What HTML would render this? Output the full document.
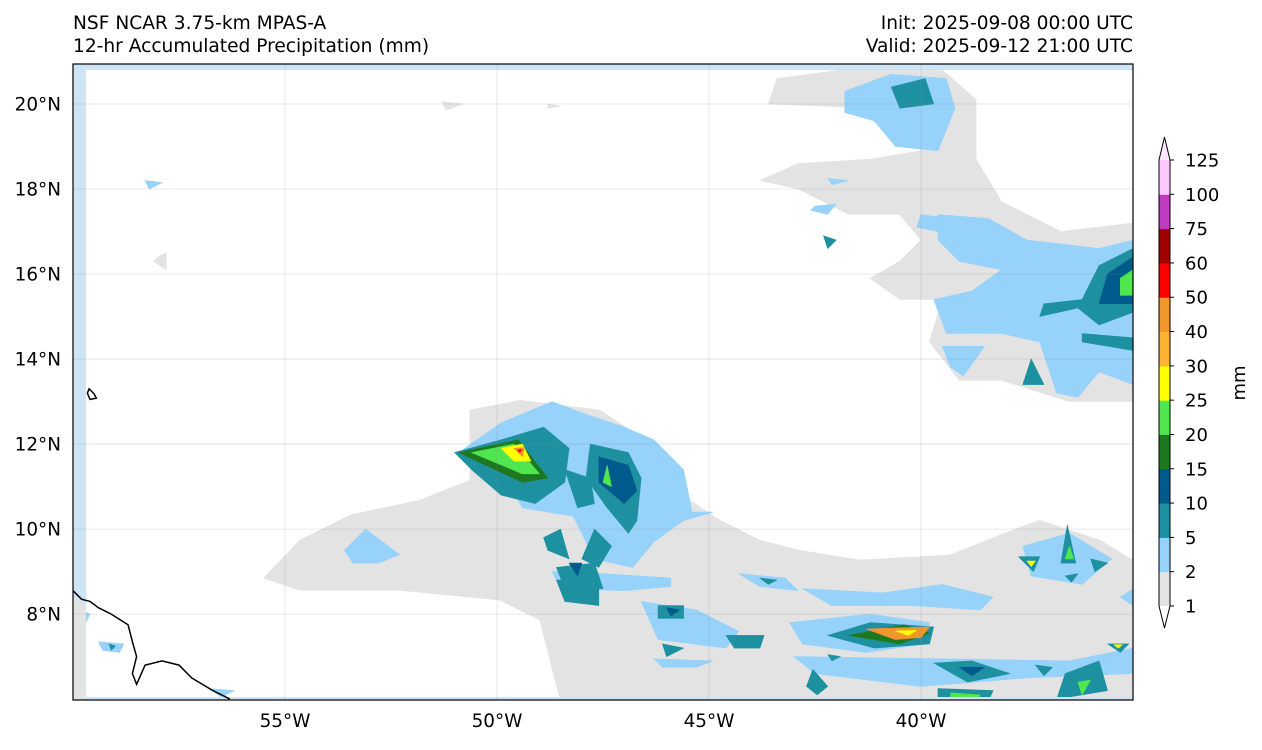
<!DOCTYPE html>
<html><head><meta charset="utf-8">
<style>
html,body{margin:0;padding:0;background:#fff;}
body{width:1262px;height:745px;overflow:hidden;font-family:"Liberation Sans","DejaVu Sans",sans-serif;}
svg text{font-family:"DejaVu Sans","Liberation Sans",sans-serif;fill:#000;}
</style></head>
<body>
<svg id="chart" width="1262" height="745" viewBox="0 0 1262 745" xmlns="http://www.w3.org/2000/svg">
<text x="73" y="29" font-size="18.6">NSF NCAR 3.75-km MPAS-A</text>
<text x="73" y="52" font-size="18.6">12-hr Accumulated Precipitation (mm)</text>
<text x="1133" y="29" font-size="18.6" text-anchor="end">Init: 2025-09-08 00:00 UTC</text>
<text x="1133" y="52" font-size="18.6" text-anchor="end">Valid: 2025-09-12 21:00 UTC</text>
<defs><clipPath id="mapclip"><rect x="73" y="64" width="1060" height="636"/></clipPath></defs>
<g id="map" clip-path="url(#mapclip)"></g>
<rect x="73" y="64" width="1060" height="636" fill="none" stroke="#000" stroke-width="1.2"/>
<g id="axes"></g>
<g id="cbar"></g>
<text x="1245" y="383" font-size="18" text-anchor="middle" transform="rotate(-90 1245 383)">mm</text>
</svg>
<script>
// ---- data ----
const levels = [1,2,5,10,15,20,25,30,40,50,60,75,100,125];
const levelColors = ["#e3e3e3","#96d2fa","#1e91a0","#005a8c","#1e7820","#50e650","#ffff00","#fab432","#f0962d","#ff0000","#a00000","#c03cc0","#ffc8ff"];
const lonTicks = [-55,-50,-45,-40];
const lonLabels = ["55°W","50°W","45°W","40°W"];
const latTicks = [8,10,12,14,16,18,20];
const latLabels = ["8°N","10°N","12°N","14°N","16°N","18°N","20°N"];
const lonRange = [-60,-35];
const latRange = [5.98,20.94];
const gray1 = [[-55.5,8.85],[-54.65,9.74],[-53.47,10.33],[-51.82,10.68],[-50.64,11.15],[-50.64,12.8],[-49.46,13.03],[-47.57,12.8],[-46.16,11.86],[-45.45,10.68],[-44.74,10.21],[-43.8,9.74],[-42.85,9.5],[-41.44,9.27],[-39.32,9.39],[-38.14,9.86],[-37.2,10.21],[-35.78,9.74],[-35,9.27],[-35,5.98],[-48.51,5.98],[-48.99,7.86],[-49.93,8.33],[-52.29,8.56],[-54.65,8.56]];
const gray2 = [[-43.4,20.6],[-41.9,20.8],[-39.5,20.8],[-38.7,20.1],[-38.7,18.7],[-38.1,17.7],[-36.7,17.0],[-35,17.2],[-35,13.0],[-36.5,13.0],[-38.1,13.5],[-39.1,13.5],[-39.8,14.4],[-39.5,15.4],[-40.5,15.4],[-41.2,15.9],[-40.5,16.3],[-40.0,16.8],[-40.5,17.4],[-41.7,17.4],[-42.9,18.0],[-43.8,18.2],[-42.9,18.6],[-41.2,18.7],[-40.0,18.9],[-41.0,19.9],[-43.6,20.0]];
const gray3 = [[-51.3,20.05],[-50.8,20.0],[-51.2,19.85]];
const gray4 = [[-48.8,20.0],[-48.5,19.95],[-48.8,19.9]];
const gray5 = [[-58.0,16.4],[-57.8,16.5],[-57.8,16.1],[-58.1,16.3]];
const gray6 = [[-60,8.4],[-59.7,8.2],[-59.7,5.98],[-60,5.98]];
const blue1 = [[-41.8,20.3],[-40.7,20.7],[-39.4,20.6],[-39.2,19.9],[-39.6,18.9],[-40.6,19.0],[-41.1,19.6],[-41.8,19.8]];
const teal1 = [[-40.7,20.4],[-39.9,20.6],[-39.7,20.0],[-40.5,19.9]];
const blue2 = [[-39.6,17.4],[-38.4,17.3],[-37.5,16.8],[-35.8,16.6],[-35,16.8],[-35,13.4],[-35.8,13.7],[-36.3,13.1],[-36.8,13.2],[-37.2,14.4],[-38.1,14.6],[-39.4,14.6],[-39.7,15.4],[-38.8,15.6],[-38.1,16.1],[-39.1,16.3],[-39.6,16.8]];
const blue2b = [[-39.5,14.3],[-38.5,14.3],[-39.0,13.6],[-39.3,13.8]];
const blue2c = [[-42.2,18.25],[-41.7,18.2],[-42.1,18.1]];
const blue2d = [[-42.5,17.6],[-42.0,17.65],[-42.2,17.4],[-42.6,17.5]];
const blue2e = [[-40.0,17.4],[-39.3,17.3],[-39.6,17.0],[-40.1,17.1]];
const teal2 = [[-35.8,16.2],[-35,16.6],[-35,15.1],[-35.8,14.8],[-36.3,15.2],[-37.2,15.0],[-37.1,15.3],[-36.2,15.4]];
const teal3 = [[-36.2,14.6],[-35,14.5],[-35,14.2],[-36.2,14.4]];
const teal3b = [[-37.4,14.0],[-37.1,13.4],[-37.6,13.4]];
const teal3c = [[-42.3,16.9],[-42.0,16.8],[-42.2,16.6]];
const dblue1 = [[-35.6,16.0],[-35,16.4],[-35,15.3],[-35.8,15.3]];
const green1 = [[-35.3,15.9],[-35,16.1],[-35,15.5],[-35.3,15.5]];
const blue3 = [[-50.9,11.8],[-49.9,12.5],[-48.7,13.0],[-47.9,12.7],[-47.0,12.4],[-46.3,12.1],[-45.6,11.4],[-45.4,10.4],[-44.9,10.4],[-45.6,10.2],[-46.3,9.7],[-46.8,9.1],[-47.7,9.3],[-48.2,10.3],[-49.4,10.5],[-49.9,11.4]];
const blue4 = [[-48.7,9.0],[-47.5,8.95],[-45.9,8.85],[-45.9,8.65],[-47.0,8.55],[-48.5,8.6]];
const blue5 = [[-53.6,9.5],[-53.1,10.0],[-52.3,9.4],[-52.8,9.2],[-53.4,9.2]];
const teal4 = [[-51.0,11.8],[-49.9,12.1],[-48.9,12.4],[-48.3,11.9],[-48.4,11.1],[-49.1,10.6],[-49.9,10.8],[-50.6,11.4]];
const dgreen2 = [[-50.9,11.8],[-49.5,12.1],[-48.8,11.2],[-49.4,11.1]];
const green2 = [[-50.6,11.8],[-49.6,12.0],[-49.0,11.3],[-49.4,11.3]];
const yellow2 = [[-49.9,11.9],[-49.4,12.0],[-49.2,11.6],[-49.6,11.6]];
const orange2 = [[-49.6,11.9],[-49.35,11.92],[-49.4,11.7]];
const red2 = [[-49.52,11.86],[-49.42,11.88],[-49.46,11.8]];
const teal5 = [[-47.8,12.0],[-46.9,11.8],[-46.6,11.2],[-46.7,10.2],[-46.9,9.9],[-47.4,10.5],[-47.9,11.2]];
const dblue5 = [[-47.6,11.7],[-46.9,11.5],[-46.7,10.9],[-47.0,10.6],[-47.6,11.1]];
const green5 = [[-47.4,11.5],[-47.3,11.0],[-47.5,11.1]];
const teal6 = [[-48.4,11.4],[-47.8,11.2],[-47.7,10.6],[-48.1,10.5]];
const teal7 = [[-48.9,9.8],[-48.5,10.0],[-48.3,9.3],[-48.8,9.5]];
const teal8 = [[-48.6,9.1],[-47.7,9.2],[-47.5,8.6],[-48.4,8.6]];
const teal9 = [[-47.7,10.0],[-47.3,9.6],[-47.6,9.1],[-48.0,9.3]];
const teal10 = [[-48.6,8.8],[-47.6,8.8],[-47.6,8.2],[-48.4,8.3]];
const dblue10 = [[-48.3,9.2],[-48.0,9.2],[-48.1,8.9]];
const blue7 = [[-42.8,8.6],[-40.9,8.5],[-39.5,8.7],[-38.3,8.4],[-38.6,8.1],[-40.2,8.2],[-42.1,8.2]];
const blue6 = [[-43.1,7.8],[-41.2,8.0],[-39.8,7.8],[-39.9,7.3],[-41.3,7.1],[-42.8,7.3]];
const teal11 = [[-42.2,7.5],[-41.2,7.8],[-39.7,7.7],[-39.8,7.3],[-41.1,7.2]];
const dgreen11 = [[-41.7,7.5],[-40.4,7.75],[-39.8,7.55],[-40.5,7.3]];
const orange11 = [[-41.3,7.65],[-39.8,7.7],[-40.0,7.45],[-40.6,7.4]];
const yellow11 = [[-40.6,7.6],[-40.1,7.62],[-40.3,7.5]];
const blue8 = [[-44.3,8.95],[-43.2,8.85],[-42.9,8.55],[-43.8,8.65]];
const teal8b = [[-43.8,8.85],[-43.4,8.8],[-43.6,8.7]];
const blue9 = [[-46.6,8.3],[-45.3,8.1],[-44.3,7.6],[-44.6,7.2],[-46.2,7.4]];
const teal12 = [[-46.2,8.2],[-45.6,8.2],[-45.6,7.9],[-46.2,7.9]];
const dblue12 = [[-46.0,8.15],[-45.7,8.1],[-45.9,7.95]];
const teal13 = [[-44.6,7.5],[-43.7,7.5],[-43.8,7.2],[-44.4,7.2]];
const teal14 = [[-46.1,7.3],[-45.6,7.2],[-46.0,7.0]];
const blue15 = [[-43.0,7.0],[-39.5,6.95],[-36.5,6.9],[-35,7.2],[-35,6.6],[-37.5,6.5],[-40,6.3],[-42.5,6.6]];
const blue15b = [[-46.3,6.95],[-44.9,6.9],[-45.3,6.75],[-46.1,6.75]];
const teal15 = [[-39.7,6.85],[-38.8,6.9],[-37.9,6.6],[-38.9,6.4]];
const dblue15 = [[-39.1,6.75],[-38.5,6.75],[-38.8,6.55]];
const teal16 = [[-36.6,6.6],[-35.8,6.9],[-35.6,6.2],[-36.8,6.0]];
const green16 = [[-36.3,6.4],[-36.0,6.45],[-36.2,6.1]];
const teal17 = [[-35.6,7.3],[-35.1,7.3],[-35.3,7.1]];
const yellow17 = [[-35.45,7.28],[-35.25,7.28],[-35.35,7.2]];
const teal18 = [[-39.6,6.25],[-38.3,6.2],[-38.4,5.98],[-39.6,5.98]];
const green18 = [[-39.3,6.15],[-38.6,6.1],[-38.7,5.98],[-39.3,5.98]];
const teal19 = [[-42.55,6.7],[-42.2,6.3],[-42.45,6.1],[-42.7,6.3]];
const teal19b = [[-37.3,6.8],[-36.9,6.75],[-37.1,6.55]];
const blue20 = [[-37.6,9.6],[-36.5,9.9],[-35.5,9.3],[-36.2,8.7],[-37.4,8.9]];
const teal20 = [[-37.7,9.35],[-37.2,9.35],[-37.35,9.0]];
const yellow20 = [[-37.5,9.25],[-37.3,9.25],[-37.4,9.12]];
const teal21 = [[-36.55,10.1],[-36.35,9.2],[-36.7,9.2]];
const green21 = [[-36.5,9.6],[-36.4,9.3],[-36.6,9.3]];
const teal22 = [[-36.0,9.3],[-35.6,9.2],[-35.9,9.0]];
const teal22b = [[-36.6,8.9],[-36.3,8.95],[-36.45,8.75]];
const blue23 = [[-58.3,18.2],[-57.9,18.15],[-58.2,18.0]];
const blue24 = [[-59.4,7.35],[-58.8,7.3],[-58.9,7.1],[-59.3,7.15]];
const teal24 = [[-59.15,7.3],[-59.0,7.25],[-59.1,7.15]];
const blue25 = [[-56.8,6.25],[-56.2,6.2],[-56.5,6.05]];
const blue26 = [[-59.8,8.1],[-59.6,8.0],[-59.7,7.8]];
const teal27 = [[-42.2,7.05],[-41.9,7.0],[-42.1,6.9]];
const blue28 = [[-35.3,8.4],[-35,8.6],[-35,8.2]];
const shapes = [
 [0,gray1],[0,gray2],[0,gray3],[0,gray4],[0,gray5],
 [1,blue1],[2,teal1],[1,blue2],[1,blue2b],[1,blue2c],[1,blue2d],[1,blue2e],[2,teal2],[2,teal3],[2,teal3b],[2,teal3c],[3,dblue1],[5,green1],
 [1,blue3],[1,blue4],[1,blue5],[2,teal4],[4,dgreen2],[5,green2],[6,yellow2],[8,orange2],[9,red2],
 [2,teal5],[3,dblue5],[5,green5],[2,teal6],[2,teal7],[2,teal8],[2,teal9],[2,teal10],[3,dblue10],
 [1,blue7],[1,blue6],[2,teal11],[4,dgreen11],[8,orange11],[6,yellow11],[1,blue8],[2,teal8b],[1,blue9],[2,teal12],[3,dblue12],[2,teal13],[2,teal14],
 [1,blue15],[1,blue15b],[2,teal15],[3,dblue15],[2,teal16],[5,green16],[2,teal17],[6,yellow17],[2,teal18],[5,green18],[2,teal19],[2,teal19b],
 [1,blue20],[2,teal20],[6,yellow20],[2,teal21],[5,green21],[2,teal22],[2,teal22b],
 [1,blue23],[1,blue24],[2,teal24],[1,blue25],[1,blue26],[2,teal27],[1,blue28]
];
const coastline = [[-60,8.55],[-59.8,8.35],[-59.6,8.3],[-59.4,8.15],[-59.1,8.0],[-58.7,7.75],[-58.6,7.35],[-58.5,7.0],[-58.6,6.6],[-58.5,6.35],[-58.3,6.8],[-57.9,6.9],[-57.5,6.8],[-57.2,6.5],[-56.7,6.2],[-56.3,6.0]];
const island = [[-59.62,13.3],[-59.5,13.18],[-59.45,13.08],[-59.6,13.05],[-59.66,13.2]];

// ---- axis functions ----
const X0=73,X1=1133,Y0=64,Y1=700;
function xs(lon){return X0+(lon-lonRange[0])/(lonRange[1]-lonRange[0])*(X1-X0);}
function ys(lat){return Y0+(latRange[1]-lat)/(latRange[1]-latRange[0])*(Y1-Y0);}
const NS="http://www.w3.org/2000/svg";
const map=document.getElementById('map');
function pts(a){return a.map(p=>xs(p[0]).toFixed(1)+","+ys(p[1]).toFixed(1)).join(" ");}

shapes.forEach((s,i)=>{
  const p=document.createElementNS(NS,'polygon');
  p.setAttribute('points',pts(s[1]));
  p.setAttribute('fill',levelColors[s[0]]);
  p.setAttribute('stroke',levelColors[s[0]]);
  p.setAttribute('stroke-width','0.6');
  p.setAttribute('stroke-linejoin','round');
  
  
  map.appendChild(p);
});

[[X0,Y0,13,Y1-Y0],[X0,Y0,X1-X0,6],[X0,Y1-3,X1-X0,3]].forEach(r=>{
  const e=document.createElementNS(NS,'rect');
  e.setAttribute('x',r[0]);e.setAttribute('y',r[1]);e.setAttribute('width',r[2]);e.setAttribute('height',r[3]);
  e.setAttribute('fill','#cfe4f5');
  
  
  map.appendChild(e);
});
const g6=document.createElementNS(NS,'polygon');
g6.setAttribute('points',pts(gray6));
g6.setAttribute('fill','#e3e3e3');


map.appendChild(g6);

lonTicks.forEach(l=>{
  const g=document.createElementNS(NS,'line');
  g.setAttribute('x1',xs(l));g.setAttribute('x2',xs(l));g.setAttribute('y1',Y0);g.setAttribute('y2',Y1);
  g.setAttribute('stroke','#888');g.setAttribute('stroke-opacity','0.25');g.setAttribute('stroke-width','0.8');
  
  
  map.appendChild(g);
});
latTicks.forEach(l=>{
  const g=document.createElementNS(NS,'line');
  g.setAttribute('y1',ys(l));g.setAttribute('y2',ys(l));g.setAttribute('x1',X0);g.setAttribute('x2',X1);
  g.setAttribute('stroke','#888');g.setAttribute('stroke-opacity','0.25');g.setAttribute('stroke-width','0.8');
  
  
  map.appendChild(g);
});

const cl=document.createElementNS(NS,'polyline');
cl.setAttribute('points',pts(coastline));
cl.setAttribute('fill','none');cl.setAttribute('stroke','#000');cl.setAttribute('stroke-width','1.5');


map.appendChild(cl);
const isl=document.createElementNS(NS,'polygon');
isl.setAttribute('points',pts(island));
isl.setAttribute('fill','none');isl.setAttribute('stroke','#000');isl.setAttribute('stroke-width','1.5');


map.appendChild(isl);

const axes=document.getElementById('axes');
lonTicks.forEach((l,i)=>{
  const t=document.createElementNS(NS,'text');
  t.setAttribute('x',xs(l));t.setAttribute('y',727);t.setAttribute('font-size','18.4');t.setAttribute('text-anchor','middle');
  t.textContent=lonLabels[i];
  
  
  axes.appendChild(t);
});
latTicks.forEach((l,i)=>{
  const t=document.createElementNS(NS,'text');
  t.setAttribute('x',61);t.setAttribute('y',ys(l)+6.5);t.setAttribute('font-size','18.4');t.setAttribute('text-anchor','end');
  t.textContent=latLabels[i];
  
  
  axes.appendChild(t);
});

const cb=document.getElementById('cbar');
const CBX=1159,CBW=11,CBB=606,CBT=160;
const step=(CBB-CBT)/(levels.length-1);
function cy(i){return CBB-i*step;}
for(let i=0;i<levelColors.length;i++){
  const r=document.createElementNS(NS,'rect');
  r.setAttribute('x',CBX);r.setAttribute('y',cy(i+1));r.setAttribute('width',CBW);r.setAttribute('height',step+0.5);
  r.setAttribute('fill',levelColors[i]);
  
  
  cb.appendChild(r);
}
const under=document.createElementNS(NS,'polygon');
under.setAttribute('points',`${CBX},${CBB} ${CBX+CBW},${CBB} ${CBX+CBW/2},${CBB+22}`);
under.setAttribute('fill','#fff');


cb.appendChild(under);
const over=document.createElementNS(NS,'polygon');
over.setAttribute('points',`${CBX},${CBT} ${CBX+CBW},${CBT} ${CBX+CBW/2},${CBT-23}`);
over.setAttribute('fill','#ffe8ff');


cb.appendChild(over);
const outline=document.createElementNS(NS,'polygon');
outline.setAttribute('points',`${CBX},${CBT} ${CBX+CBW/2},${CBT-23} ${CBX+CBW},${CBT} ${CBX+CBW},${CBB} ${CBX+CBW/2},${CBB+22} ${CBX},${CBB}`);
outline.setAttribute('fill','none');outline.setAttribute('stroke','#000');outline.setAttribute('stroke-width','1');


cb.appendChild(outline);
levels.forEach((v,i)=>{
  const tk=document.createElementNS(NS,'line');
  tk.setAttribute('x1',CBX+CBW);tk.setAttribute('x2',CBX+CBW+4);tk.setAttribute('y1',cy(i));tk.setAttribute('y2',cy(i));
  tk.setAttribute('stroke','#000');
  
  
  cb.appendChild(tk);
  const t=document.createElementNS(NS,'text');
  t.setAttribute('x',CBX+CBW+15);t.setAttribute('y',cy(i)+6.5);t.setAttribute('font-size','18');
  t.textContent=v;
  
  
  cb.appendChild(t);
});
</script>
</body></html>
